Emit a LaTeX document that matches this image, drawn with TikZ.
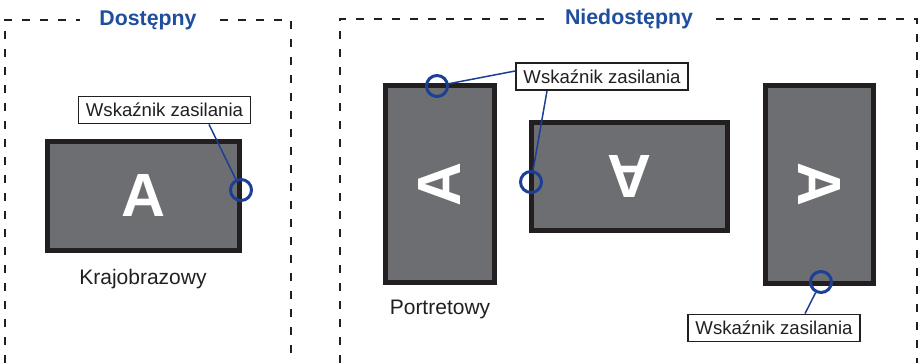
\documentclass[tikz,border=0pt]{standalone}
\usepackage{fontspec}
\setmainfont{Liberation Sans}
\usetikzlibrary{calc}

\definecolor{frame}{HTML}{231F20}
\definecolor{panel}{HTML}{6D6E71}
\definecolor{ledblue}{HTML}{1B3F95}
\definecolor{titleblue}{HTML}{1F4E9F}

\begin{document}
\begin{tikzpicture}[x=1pt, y=-1pt,
  scr/.style={draw=frame, fill=panel, line width=5pt, inner sep=0pt},
  letter/.style={text=white, inner sep=0pt, font=\fontsize{61}{61}\selectfont\bfseries},
  led/.style={circle, draw=ledblue, line width=3pt, minimum size=21pt, inner sep=0pt},
  tag/.style={draw=frame, fill=white, line width=1.8pt, inner sep=0pt,
    minimum width=172pt, minimum height=27pt, text=frame, font=\fontsize{18.6}{20}\selectfont},
  lead/.style={draw=ledblue, line width=1.5pt},
  zone/.style={draw=frame, line width=2pt, dash pattern=on 8pt off 10pt},
  ztitle/.style={anchor=base, fill=white, inner xsep=19pt, text=titleblue,
    font=\fontsize{21.3}{24}\selectfont\bfseries},
  modename/.style={anchor=base, text=frame, font=\fontsize{21}{24}\selectfont}]
\useasboundingbox (0,0) rectangle (918,363);

% ramki
\draw[zone] (5,363) -- (5,20) -- (291,20) -- (291,363);
\draw[zone] (340,363) -- (340,19) -- (917,19) -- (917,363);
\node[ztitle] (zA) at (148,26) {Dostępny};
\node[ztitle] (zN) at (629,25) {Niedostępny};

% dostepny
\node[scr, minimum width=192pt, minimum height=109pt] (scrL) at (143.5,196) {};
\node[letter] (aL) at (scrL) {A};
\node[led] (ledL) at (241,190) {};
\node[tag] (tagL) at (164.5,110) {Wskaźnik zasilania};
\draw[lead] ($(tagL.south)+(44.5,0)$) -- (ledL);
\node[modename] (mL) at (143,285) {Krajobrazowy};

% niedostepny
\node[scr, minimum width=109pt, minimum height=197pt] (scrP) at (440,184) {};
\node[letter, rotate=90] (aP) at (scrP) {A};
\node[led] (ledP) at (437,86) {};
\node[scr, minimum width=196pt, minimum height=108pt] (scrM) at (629.5,176.5) {};
\node[letter, rotate=180] (aM) at (scrM) {A};
\node[led] (ledM) at (531,182) {};
\node[tag] (tagT) at (602,76.5) {Wskaźnik zasilania};
\draw[lead] ($(tagT.west)+(0,-5.5)$) -- (ledP);
\draw[lead] ($(tagT.south)+(-55,0)$) -- (ledM);
\node[modename] (mP) at (440,315) {Portretowy};

\node[scr, minimum width=108pt, minimum height=198pt] (scrR) at (819.5,184.5) {};
\node[letter, rotate=-90] (aR) at (scrR) {A};
\node[led] (ledR) at (821,282) {};
\node[tag] (tagR) at (774,328) {Wskaźnik zasilania};
\draw[lead] ($(tagR.north)+(31,0)$) -- (ledR);
\end{tikzpicture}
\end{document}
